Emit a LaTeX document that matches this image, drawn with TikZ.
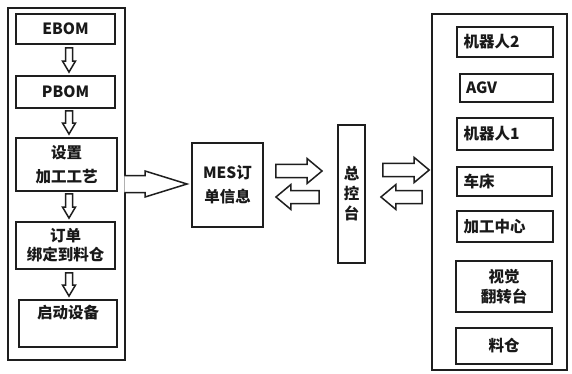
\documentclass[tikz,border=0pt]{standalone}
\usepackage{fontspec}
\setmainfont{Noto Sans CJK SC}
\usetikzlibrary{calc}
\definecolor{linec}{RGB}{30,30,30}
\definecolor{ink}{RGB}{25,25,25}
\tikzset{
  outerbox/.style={draw=linec, line width=1.6pt, inner sep=0pt},
  box/.style={draw=linec, line width=1.9pt, inner sep=0pt, align=center},
  lbox/.style={draw=linec, line width=1.9pt, inner sep=0pt, align=left, text width=#1},
  arrowshape/.style={draw=linec, line width=1.5pt, fill=white, line join=miter},
}
% #1 start, #2 tip, #3 body half width, #4 head half width, #5 head length
\newcommand\blockarrow[5]{%
  \coordinate (ba-m) at ($(#2)!#5!(#1)$);
  \draw[arrowshape] ($(#1)!#3!90:(#2)$) -- ($(ba-m)!#3!-90:(#1)$) -- ($(ba-m)!#4!-90:(#1)$)
    -- (#2) -- ($(ba-m)!#4!90:(#1)$) -- ($(ba-m)!#3!90:(#1)$) -- ($(#1)!#3!-90:(#2)$) -- cycle;}
% open-based arrow (attached to a frame)
\newcommand\openarrow[5]{%
  \coordinate (ba-m) at ($(#2)!#5!(#1)$);
  \fill[white] ($(#1)!#3!90:(#2)$) -- ($(ba-m)!#3!-90:(#1)$) -- ($(ba-m)!#4!-90:(#1)$)
    -- (#2) -- ($(ba-m)!#4!90:(#1)$) -- ($(ba-m)!#3!90:(#1)$) -- ($(#1)!#3!-90:(#2)$) -- cycle;
  \draw[draw=linec, line width=1.5pt, line join=miter] ($(#1)!#3!90:(#2)$) -- ($(ba-m)!#3!-90:(#1)$) -- ($(ba-m)!#4!-90:(#1)$)
    -- (#2) -- ($(ba-m)!#4!90:(#1)$) -- ($(ba-m)!#3!90:(#1)$) -- ($(#1)!#3!-90:(#2)$);}
\begin{document}
\begin{tikzpicture}[x=1pt, y=-1pt, font=\fontsize{15.5}{20}\selectfont\bfseries, text=ink]
\useasboundingbox[fill=white] (0,0) rectangle (572,374);

% left column
\node[outerbox, minimum width=117pt, minimum height=352pt] (lo) at (66.5,184) {};
\node[box, minimum width=99pt, minimum height=30pt] (ebom) at (65.5,29) {EBOM};
\node[box, minimum width=99pt, minimum height=32pt] (pbom) at (65.5,92) {PBOM};
\node[box, minimum width=101pt, minimum height=53pt, font=\fontsize{15.5}{24}\selectfont\bfseries] (proc) at (66.5,164.5) {设置\\加工工艺};
\node[box, minimum width=99pt, minimum height=47pt, font=\fontsize{15.5}{19}\selectfont\bfseries] (order) at (65.5,245.5) {订单\\绑定到料仓};
\node[box, minimum width=98pt, minimum height=47pt,
      label={[anchor=north, inner sep=0pt, yshift=-6pt]north:启动设备}] (start) at (68,323.5) {};

% middle
\node[box, minimum width=71pt, minimum height=84pt, font=\fontsize{15.5}{24}\selectfont\bfseries] (mes) at (227.5,185) {MES订\\单信息};
\node[box, minimum width=27pt, minimum height=138pt, font=\fontsize{15.5}{20}\selectfont\bfseries] (ctrl) at (351.5,194) {总\\控\\台};

% right column
\node[outerbox, minimum width=135pt, minimum height=356pt] (ro) at (499.5,192) {};
\node[lbox=83pt, minimum width=96pt, minimum height=30pt] (r2) at (505,42) {机器人2};
\node[lbox=81pt, minimum width=93pt, minimum height=28pt] (agv) at (506.5,88) {AGV};
\node[lbox=83pt, minimum width=96pt, minimum height=32pt] (r1) at (505,134) {机器人1};
\node[lbox=82pt, minimum width=95pt, minimum height=29pt] (lathe) at (504.5,181.5) {车床};
\node[lbox=83pt, minimum width=96pt, minimum height=31pt] (mc) at (505,226.5) {加工中心};
\node[box, minimum width=96pt, minimum height=51pt, font=\fontsize{15.5}{20}\selectfont\bfseries] (vis) at (504,286.5) {视觉\\翻转台};
\node[box, minimum width=96pt, minimum height=36pt] (bin) at (504,346) {料仓};

% down arrows
\coordinate (a1s) at ($(ebom.south)+(3.5,3)$);  \coordinate (a1e) at ($(pbom.north)+(3.5,-3)$);
\coordinate (a2s) at ($(pbom.south)+(3.5,2)$);  \coordinate (a2e) at ($(proc.north)+(2.5,-3)$);
\coordinate (a3s) at ($(proc.south)+(2.5,2)$);  \coordinate (a3e) at ($(order.north)+(3.5,-3)$);
\coordinate (a4s) at ($(order.south)+(3.5,3)$); \coordinate (a4e) at ($(start.north)+(1,-3)$);
\blockarrow{a1s}{a1e}{3.5pt}{6.5pt}{11pt}
\blockarrow{a2s}{a2e}{3.5pt}{6.5pt}{11pt}
\blockarrow{a3s}{a3e}{3.5pt}{6.5pt}{11pt}
\blockarrow{a4s}{a4e}{3.5pt}{6.5pt}{11pt}

% big arrow to MES
\coordinate (bs) at ($(lo.east)+(-1.5,0)$);
\coordinate (be) at ($(mes.west)+(-4,-1)$);
\openarrow{bs}{be}{8.5pt}{13pt}{42pt}

% MES <-> control
\coordinate (m1s) at ($(mes.east)+(12,-14)$);  \coordinate (m1e) at ($(ctrl.west)+(-15,-23)$);
\coordinate (m2s) at ($(ctrl.west)+(-18,3)$);  \coordinate (m2e) at ($(mes.east)+(12,12)$);
\blockarrow{m1s}{m1e}{6.5pt}{12.5pt}{15pt}
\blockarrow{m2s}{m2e}{6.5pt}{12.5pt}{15pt}

% control <-> devices
\coordinate (c1s) at ($(ctrl.east)+(17,-24)$);  \coordinate (c1e) at ($(ro.west)+(-2,-22)$);
\coordinate (c2s) at ($(ro.west)+(-9,5)$);      \coordinate (c2e) at ($(ctrl.east)+(15,3)$);
\blockarrow{c1s}{c1e}{6.5pt}{12.5pt}{15pt}
\blockarrow{c2s}{c2e}{6.5pt}{12.5pt}{15pt}
\end{tikzpicture}
\end{document}
